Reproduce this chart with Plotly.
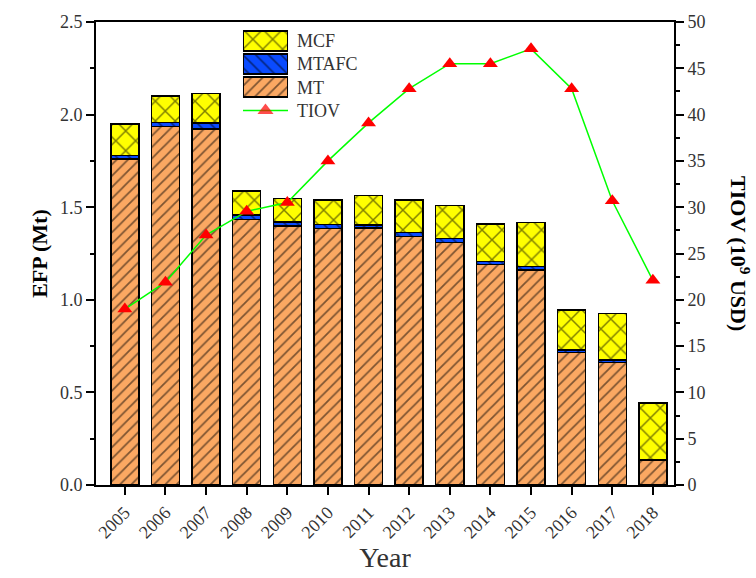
import plotly.graph_objects as go

years = [2005, 2006, 2007, 2008, 2009, 2010, 2011, 2012, 2013, 2014, 2015, 2016, 2017, 2018]
mt = [1.76, 1.937, 1.923, 1.434, 1.398, 1.386, 1.388, 1.342, 1.31, 1.19, 1.16, 0.715, 0.66, 0.132]
mtafc = [0.018, 0.021, 0.031, 0.023, 0.023, 0.021, 0.016, 0.021, 0.021, 0.018, 0.021, 0.014, 0.014, 0.004]
mcf = [0.172, 0.142, 0.159, 0.13, 0.126, 0.131, 0.16, 0.175, 0.179, 0.202, 0.237, 0.217, 0.253, 0.307]
tiov = [19.0, 21.9, 27.0, 29.55, 30.5, 35.0, 39.1, 42.8, 45.5, 45.5, 47.1, 42.8, 30.7, 22.1]
legend_names = ["MCF", "MTAFC", "MT", "TIOV"]

FONT = "Liberation Serif, DejaVu Serif, serif"
C_MT, C_MTAFC, C_MCF = "#FBA862", "#0A4BFF", "#FFFF00"
pat_mt = dict(shape="/", fgcolor="black", bgcolor=C_MT, size=8, solidity=0.22)
pat_mtafc = dict(shape="\\", fgcolor="black", bgcolor=C_MTAFC, size=9, solidity=0.18)
pat_mcf = dict(shape="x", fgcolor="black", bgcolor=C_MCF, size=14, solidity=0.2)
outline = dict(color="black", width=1.4)

fig = go.Figure()
fig.add_trace(go.Bar(x=years, y=mt, name="MT", width=0.69, showlegend=False,
                     marker=dict(color=C_MT, line=outline, pattern=pat_mt)))
fig.add_trace(go.Bar(x=years, y=mtafc, name="MTAFC", width=0.69, showlegend=False,
                     marker=dict(color=C_MTAFC, line=outline, pattern=pat_mtafc)))
fig.add_trace(go.Bar(x=years, y=mcf, name="MCF", width=0.69, showlegend=False,
                     marker=dict(color=C_MCF, line=outline, pattern=pat_mcf)))
fig.add_trace(go.Scatter(x=years, y=tiov, name="TIOV", yaxis="y2", mode="lines+markers",
                         showlegend=False, line=dict(color="#00FF00", width=1.5),
                         marker=dict(symbol="triangle-up", color="#FF0000", size=13, line=dict(width=0))))

# custom legend (swatches drawn on a small auxiliary axis)
for nm, col, pat in [("MCF", C_MCF, pat_mcf), ("MTAFC", C_MTAFC, pat_mtafc), ("MT", C_MT, pat_mt)]:
    fig.add_trace(go.Bar(x=[1], y=[nm], orientation="h", width=0.86, xaxis="x3", yaxis="y3",
                         showlegend=False, hoverinfo="skip",
                         marker=dict(color=col, line=dict(color="black", width=1.8), pattern=pat)))
fig.add_trace(go.Scatter(x=[0, 0.5, 1], y=["TIOV"] * 3, xaxis="x3", yaxis="y3", mode="lines+markers",
                         showlegend=False, hoverinfo="skip", line=dict(color="#00FF00", width=1.5),
                         marker=dict(symbol="triangle-up", color="#FF0000", size=[0, 14, 0], line=dict(width=0))))

tickfont = dict(family=FONT, size=18, color="#333333")
fig.update_layout(
    width=756, height=578, autosize=False,
    margin=dict(l=96, r=82, t=22, b=84),
    barmode="stack",
    plot_bgcolor="white", paper_bgcolor="white",
    font=dict(family=FONT, color="black"),
    showlegend=False,
    xaxis=dict(
        range=[2004.29, 2018.52], tickmode="array", tickvals=years,
        ticktext=[str(y) for y in years], tickangle=-45,
        ticks="outside", ticklen=8, tickwidth=1.5, tickcolor="black",
        showline=True, linecolor="black", linewidth=2, mirror=True,
        showgrid=False, zeroline=False, tickfont=tickfont,
        title=dict(text="Year", font=dict(family=FONT, size=28, color="#333333"), standoff=4),
    ),
    yaxis=dict(
        range=[0, 2.5], dtick=0.5, tickformat=".1f",
        ticks="outside", ticklen=8, tickwidth=1.5, tickcolor="black",
        minor=dict(dtick=0.25, ticks="outside", ticklen=4, tickwidth=1.5, tickcolor="black", showgrid=False),
        showline=True, linecolor="black", linewidth=2, mirror=False,
        showgrid=False, zeroline=False, tickfont=tickfont,
        title=dict(text="<b>EFP (Mt)</b>", font=dict(family=FONT, size=22, color="black"), standoff=6),
    ),
    yaxis2=dict(
        overlaying="y", side="right", range=[0, 50], dtick=5,
        ticks="outside", ticklen=8, tickwidth=1.5, tickcolor="black",
        minor=dict(dtick=2.5, ticks="outside", ticklen=4, tickwidth=1.5, tickcolor="black", showgrid=False),
        showline=True, linecolor="black", linewidth=2,
        showgrid=False, zeroline=False, tickfont=tickfont,
    ),
    xaxis3=dict(domain=[0.2543, 0.3322], range=[0, 1], anchor="y3", visible=False, fixedrange=True),
    yaxis3=dict(domain=[0.784, 0.984], anchor="x3", side="right", type="category",
                categoryorder="array", categoryarray=legend_names[::-1], range=[-0.5, 3.5],
                showline=False, showgrid=False, zeroline=False, ticks="", fixedrange=True,
                ticklabelstandoff=8, tickfont=dict(family=FONT, size=18, color="#333333")),
)

fig.add_annotation(
    xref="paper", yref="paper", x=1.115, y=0.5, xanchor="center", yanchor="middle",
    text="<b>TIOV (10<sup>9</sup> USD)</b>", textangle=90, showarrow=False,
    font=dict(family=FONT, size=22, color="black"),
)

fig.write_html("out.html")
